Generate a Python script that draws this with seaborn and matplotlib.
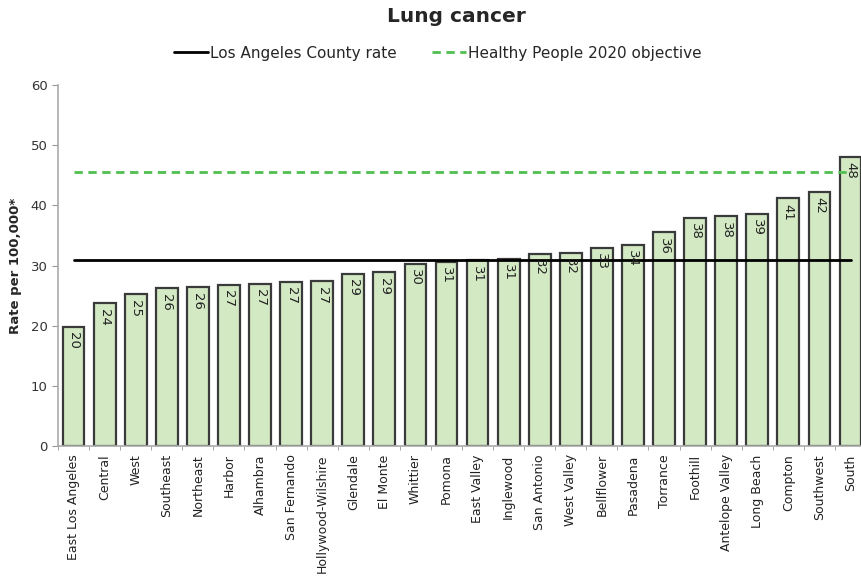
import matplotlib
matplotlib.use("Agg")
import matplotlib.pyplot as plt
import seaborn as sns
import pandas as pd
import numpy as np

areas = ["East Los Angeles", "Central", "West", "Southeast", "Northeast", "Harbor",
         "Alhambra", "San Fernando", "Hollywood-Wilshire", "Glendale", "El Monte",
         "Whittier", "Pomona", "East Valley", "Inglewood", "San Antonio", "West Valley",
         "Bellflower", "Pasadena", "Torrance", "Foothill", "Antelope Valley",
         "Long Beach", "Compton", "Southwest", "South"]
rates = [19.8, 23.7, 25.2, 26.2, 26.4, 26.8, 27.0, 27.3, 27.4, 28.6, 28.9,
         30.3, 30.6, 30.9, 31.1, 32.0, 32.1, 33.0, 33.5, 35.5, 37.9, 38.2,
         38.6, 41.2, 42.3, 48.1]
county_rate = 31.0
hp2020_objective = 45.5

sns.set_style("white")
plt.rcParams['font.family'] = ['DejaVu Sans']

df = pd.DataFrame({"area": areas, "rate": rates})

fig = plt.figure(figsize=(8.62, 5.82), dpi=100)
ax = fig.add_axes([0.0673, 0.2337, 0.9327, 0.620])

sns.barplot(data=df, x="area", y="rate", ax=ax, color="#d3e9c4", saturation=1,
            edgecolor="#3a3a3a", linewidth=1.6, width=0.7, zorder=2)

n = len(areas)
ax.plot([0, n - 1], [county_rate, county_rate], color="black", lw=2, zorder=3,
        label="Los Angeles County rate")
ax.plot([0, n - 1], [hp2020_objective, hp2020_objective], color="#4fbf4f", lw=2,
        ls=(0, (3, 2)), zorder=3, label="Healthy People 2020 objective")

for i, v in enumerate(rates):
    ax.text(i, v - 0.9, f"{v:.0f}", rotation=270, ha="center", va="top",
            fontsize=9.5, color="#222222", zorder=4)

ax.set_ylim(0, 60)
ax.set_xlim(-0.5, 25.37)
ax.set_yticks(np.arange(0, 61, 10))
ax.tick_params(axis="y", labelsize=9.5, colors="#999999", length=4, width=0.8,
               direction="out", left=True)
for lab in ax.get_yticklabels():
    lab.set_color("#333333")
ax.set_xticks(range(n))
ax.set_xticklabels(areas, rotation=90, fontsize=9.0, color="#222222")
ax.tick_params(axis="x", which="major", length=0, pad=6)
ax.set_xticks(np.arange(-0.5, n - 0.5, 1), minor=True)
ax.tick_params(axis="x", which="minor", length=3, color="#999999", bottom=True)

ax.set_xlabel("")
ax.set_ylabel("Rate per 100,000*", fontsize=9.5, fontweight="bold", labelpad=6)

for s in ["top", "right"]:
    ax.spines[s].set_visible(False)
for s in ["left", "bottom"]:
    ax.spines[s].set_color("#aaaaaa")
    ax.spines[s].set_linewidth(1.2)

fig.suptitle("Lung cancer", x=0.529, y=0.988, fontsize=14.5, fontweight="bold")
fig.legend(loc="upper center", bbox_to_anchor=(0.508, 0.945), ncol=2, frameon=False,
           fontsize=11, handlelength=2.2, handletextpad=0.15, columnspacing=2.3)

fig.savefig("out.png", dpi=100)
